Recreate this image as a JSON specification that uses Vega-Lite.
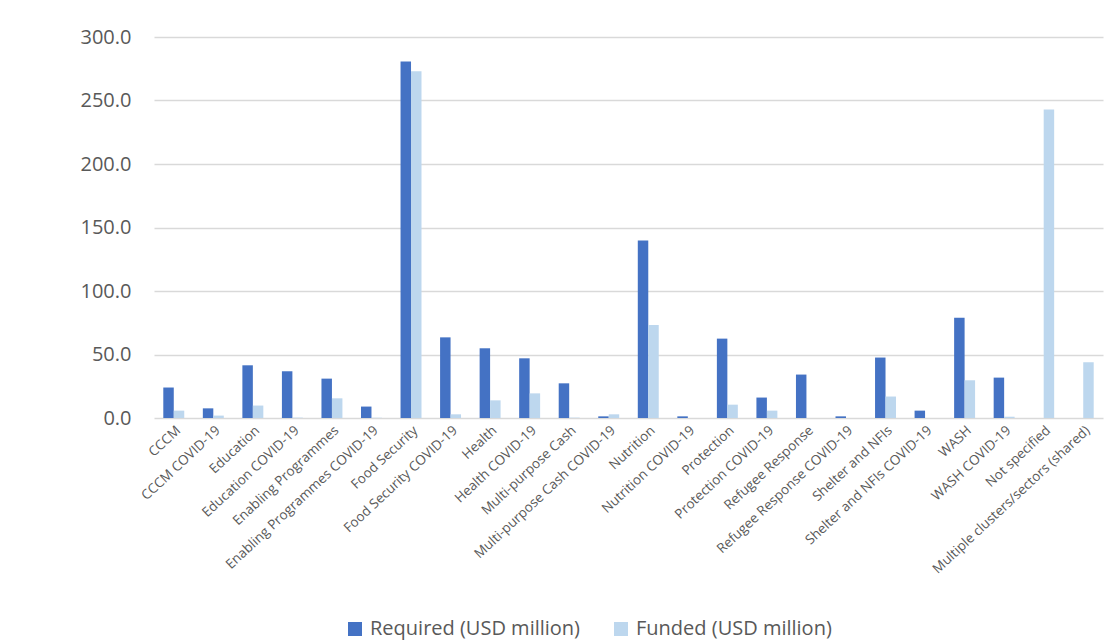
{
  "$schema": "https://vega.github.io/schema/vega-lite/v6.json",
  "width": 949,
  "height": 381,
  "autosize": {"type": "none"},
  "padding": {"left": 154, "top": 37, "right": 16, "bottom": 225},
  "background": "white",
  "data": {
    "values": [
      {"sector": "CCCM", "series": "Required (USD million)", "value": 24.0},
      {"sector": "CCCM", "series": "Funded (USD million)", "value": 5.8},
      {"sector": "CCCM COVID-19", "series": "Required (USD million)", "value": 7.6},
      {"sector": "CCCM COVID-19", "series": "Funded (USD million)", "value": 1.9},
      {"sector": "Education", "series": "Required (USD million)", "value": 41.5},
      {"sector": "Education", "series": "Funded (USD million)", "value": 9.8},
      {"sector": "Education COVID-19", "series": "Required (USD million)", "value": 36.8},
      {"sector": "Education COVID-19", "series": "Funded (USD million)", "value": 0.3},
      {"sector": "Enabling Programmes", "series": "Required (USD million)", "value": 31.0},
      {"sector": "Enabling Programmes", "series": "Funded (USD million)", "value": 15.5},
      {"sector": "Enabling Programmes COVID-19", "series": "Required (USD million)", "value": 9.0},
      {"sector": "Enabling Programmes COVID-19", "series": "Funded (USD million)", "value": 0.2},
      {"sector": "Food Security", "series": "Required (USD million)", "value": 280.8},
      {"sector": "Food Security", "series": "Funded (USD million)", "value": 273.0},
      {"sector": "Food Security COVID-19", "series": "Required (USD million)", "value": 63.5},
      {"sector": "Food Security COVID-19", "series": "Funded (USD million)", "value": 2.9},
      {"sector": "Health", "series": "Required (USD million)", "value": 54.9},
      {"sector": "Health", "series": "Funded (USD million)", "value": 13.9},
      {"sector": "Health COVID-19", "series": "Required (USD million)", "value": 47.0},
      {"sector": "Health COVID-19", "series": "Funded (USD million)", "value": 19.4},
      {"sector": "Multi-purpose Cash", "series": "Required (USD million)", "value": 27.3},
      {"sector": "Multi-purpose Cash", "series": "Funded (USD million)", "value": 0.3},
      {"sector": "Multi-purpose Cash COVID-19", "series": "Required (USD million)", "value": 1.3},
      {"sector": "Multi-purpose Cash COVID-19", "series": "Funded (USD million)", "value": 2.9},
      {"sector": "Nutrition", "series": "Required (USD million)", "value": 139.7},
      {"sector": "Nutrition", "series": "Funded (USD million)", "value": 73.2},
      {"sector": "Nutrition COVID-19", "series": "Required (USD million)", "value": 1.3},
      {"sector": "Nutrition COVID-19", "series": "Funded (USD million)", "value": 0.0},
      {"sector": "Protection", "series": "Required (USD million)", "value": 62.5},
      {"sector": "Protection", "series": "Funded (USD million)", "value": 10.5},
      {"sector": "Protection COVID-19", "series": "Required (USD million)", "value": 16.1},
      {"sector": "Protection COVID-19", "series": "Funded (USD million)", "value": 5.8},
      {"sector": "Refugee Response", "series": "Required (USD million)", "value": 34.2},
      {"sector": "Refugee Response", "series": "Funded (USD million)", "value": 0.0},
      {"sector": "Refugee Response COVID-19", "series": "Required (USD million)", "value": 1.3},
      {"sector": "Refugee Response COVID-19", "series": "Funded (USD million)", "value": 0.0},
      {"sector": "Shelter and NFIs", "series": "Required (USD million)", "value": 47.6},
      {"sector": "Shelter and NFIs", "series": "Funded (USD million)", "value": 16.9},
      {"sector": "Shelter and NFIs COVID-19", "series": "Required (USD million)", "value": 5.8},
      {"sector": "Shelter and NFIs COVID-19", "series": "Funded (USD million)", "value": 0.0},
      {"sector": "WASH", "series": "Required (USD million)", "value": 79.0},
      {"sector": "WASH", "series": "Funded (USD million)", "value": 29.7},
      {"sector": "WASH COVID-19", "series": "Required (USD million)", "value": 31.8},
      {"sector": "WASH COVID-19", "series": "Funded (USD million)", "value": 1.0},
      {"sector": "Not specified", "series": "Required (USD million)", "value": 0.0},
      {"sector": "Not specified", "series": "Funded (USD million)", "value": 243.0},
      {"sector": "Multiple clusters/sectors (shared)", "series": "Required (USD million)", "value": 0.0},
      {"sector": "Multiple clusters/sectors (shared)", "series": "Funded (USD million)", "value": 43.9}
    ]
  },
  "mark": {"type": "bar"},
  "encoding": {
    "x": {
      "field": "sector",
      "type": "nominal",
      "sort": null,
      "title": null,
      "scale": {"paddingInner": 0.47, "paddingOuter": 0.235},
      "axis": {
        "labelAngle": -43,
        "labelFont": "Open Sans",
        "labelFontSize": 13.5,
        "labelColor": "#595959",
        "labelPadding": 5,
        "ticks": false,
        "domain": false,
        "grid": false,
        "labelLimit": 400
      }
    },
    "xOffset": {"field": "series", "type": "nominal", "sort": ["Required (USD million)", "Funded (USD million)"]},
    "y": {
      "field": "value",
      "type": "quantitative",
      "title": null,
      "scale": {"domain": [0, 300], "nice": false},
      "axis": {
        "values": [0, 50, 100, 150, 200, 250, 300],
        "format": ".1f",
        "labelFont": "Open Sans",
        "labelFontSize": 20,
        "labelColor": "#595959",
        "labelPadding": 23,
        "ticks": false,
        "domain": false,
        "gridColor": "#d9d9d9",
        "gridWidth": 1.3
      }
    },
    "color": {
      "field": "series",
      "type": "nominal",
      "sort": ["Required (USD million)", "Funded (USD million)"],
      "scale": {"domain": ["Required (USD million)", "Funded (USD million)"], "range": ["#4472C4", "#BDD7EE"]},
      "legend": {
        "title": null,
        "orient": "none",
        "direction": "horizontal",
        "legendX": 191,
        "legendY": 582,
        "symbolType": "square",
        "symbolSize": 196,
        "symbolStrokeWidth": 0,
        "labelFont": "Open Sans",
        "labelFontSize": 20,
        "labelColor": "#595959",
        "labelOffset": 5,
        "columnPadding": 30,
        "labelLimit": 400
      }
    }
  },
  "config": {"view": {"stroke": null}}
}
